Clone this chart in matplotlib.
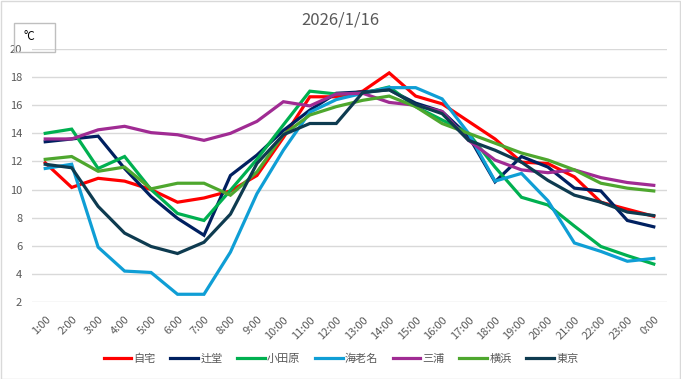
import matplotlib
matplotlib.use("Agg")
import matplotlib.pyplot as plt
from matplotlib.patches import Rectangle

plt.rcParams['font.family'] = ['Noto Sans CJK JP', 'DejaVu Sans']

hours = [f"{h}:00" for h in range(1, 24)] + ["0:00"]

names = ['自宅', '辻堂', '小田原', '海老名', '三浦', '横浜', '東京']
colors = ['#ff0000', '#002060', '#00b050', '#0f9ed5', '#a02b93', '#4ea72e', '#0e3b50']

jitaku = [11.9, 10.15, 10.8, 10.6, 10.0, 9.1, 9.4, 9.9, 11.0, 13.7, 16.6, 16.6,
          17.0, 18.3, 16.65, 16.1, 14.85, 13.6, 11.95, 11.85, 10.9, 9.1, 8.6, 8.1]
tsujido = [13.4, 13.6, 13.8, 11.5, 9.5, 7.95, 6.75, 11.0, 12.45, 14.2, 15.65, 16.85,
           16.95, 17.1, 16.15, 15.55, 13.8, 10.55, 12.35, 11.6, 10.1, 9.9, 7.8, 7.35]
odawara = [14.0, 14.3, 11.5, 12.35, 10.0, 8.3, 7.8, 9.95, 12.15, 14.6, 17.0, 16.8,
           16.85, 17.3, 15.9, 14.95, 14.0, 11.6, 9.45, 8.9, 7.4, 5.95, 5.3, 4.7]
ebina = [11.5, 11.8, 5.9, 4.2, 4.1, 2.55, 2.55, 5.55, 9.7, 12.8, 15.5, 16.4,
         16.85, 17.25, 17.25, 16.45, 14.0, 10.6, 11.15, 9.2, 6.2, 5.6, 4.9, 5.1]
miura = [13.6, 13.6, 14.25, 14.5, 14.05, 13.9, 13.5, 14.0, 14.85, 16.25, 15.95, 16.8,
         16.85, 16.2, 16.0, 15.55, 13.5, 12.1, 11.4, 11.2, 11.4, 10.85, 10.5, 10.3]
yokohama = [12.15, 12.35, 11.3, 11.6, 10.05, 10.45, 10.45, 9.6, 11.25, 13.9, 15.3, 15.9,
            16.35, 16.65, 15.9, 14.7, 14.0, 13.3, 12.6, 12.1, 11.4, 10.45, 10.1, 9.9]
tokyo = [11.8, 11.55, 8.8, 6.9, 5.95, 5.45, 6.25, 8.25, 11.85, 13.9, 14.7, 14.7,
         16.9, 17.1, 16.05, 15.4, 13.5, 12.8, 11.95, 10.65, 9.6, 9.1, 8.4, 8.15]

series = [jitaku, tsujido, odawara, ebina, miura, yokohama, tokyo]

fig = plt.figure(figsize=(6.81, 3.79), dpi=100)
ax = fig.add_axes([32 / 681, 1 - 302 / 379, 635 / 681, 253 / 379])

x = list(range(len(hours)))
for name, vals, c in zip(names, series, colors):
    ax.plot(x, vals, color=c, lw=2.3, label=name, solid_joinstyle='miter')

ax.set_xlim(-0.5, len(hours) - 0.5)
ax.set_ylim(2, 20)
ax.set_yticks(range(2, 21, 2))
ax.set_xticks(x)
ax.set_xticklabels(hours, rotation=45, ha='right', va='top', rotation_mode='anchor')
ax.grid(axis='y', color='#d9d9d9', lw=1)
ax.set_axisbelow(True)
for s in ax.spines.values():
    s.set_visible(False)
ax.tick_params(length=0, labelsize=8, labelcolor='#595959')
ax.tick_params(axis='x', pad=9)
ax.tick_params(axis='y', pad=7)

fig.text(0.5, 1 - 20 / 379, '2026/1/16', ha='center', va='center',
         fontsize=12, color='#595959')

# unit box
fig.patches.append(Rectangle((14 / 681, 1 - 52 / 379), 41 / 681, 29 / 379,
                             transform=fig.transFigure, fill=False,
                             edgecolor='#bfbfbf', lw=1))
fig.text(23 / 681, 1 - 37 / 379, '°C', ha='left', va='center', fontsize=8.5, color='black')

# chart border
fig.patches.append(Rectangle((0.5 / 681, 0.5 / 379), 679.5 / 681, 377.5 / 379,
                             transform=fig.transFigure, fill=False,
                             edgecolor='#d9d9d9', lw=1))

fig.legend(loc='center', bbox_to_anchor=(341 / 681, 1 - 359 / 379), ncol=7,
           frameon=False, fontsize=8, handlelength=2.5, handletextpad=0.2,
           columnspacing=1.3, labelcolor='#595959')

fig.savefig('out.png', dpi=100)
